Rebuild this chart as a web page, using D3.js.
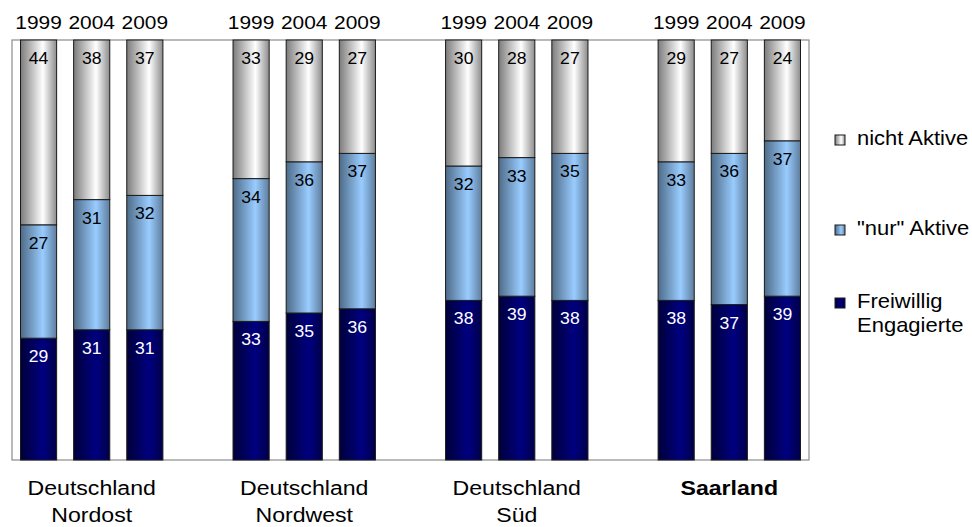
<!DOCTYPE html>
<html>
<head>
<meta charset="utf-8">
<script src="https://cdn.jsdelivr.net/npm/d3@7"></script>
<style>
  body { margin: 0; background: #fff; }
  svg { display: block; font-family: Arial, "Liberation Sans", sans-serif; }
</style>
</head>
<body>
<div id="chart"></div>
<script>
// Data (percent, each bar sums to 100)
const regions = ["Deutschland|Nordost", "Deutschland|Nordwest", "Deutschland|Süd", "Saarland"];
const years = ["1999", "2004", "2009"];
const engagiert = [29, 31, 31, 33, 35, 36, 38, 39, 38, 38, 37, 39];
const nurAktiv = [27, 31, 32, 34, 36, 37, 32, 33, 35, 33, 36, 37];
const nichtAktiv = [44, 38, 37, 33, 29, 27, 30, 28, 27, 29, 27, 24];
const seriesKeys = ["engagiert", "nurAktiv", "nichtAktiv"];
const legendLabels = ["nicht Aktive", "\"nur\" Aktive", "Freiwillig|Engagierte"];

const width = 972, height = 527;
const margin = {top: 40, right: 163, bottom: 67, left: 12};
// the original's text is a bit wider than Arial, stretch it slightly
const textStretch = 1.1;

// build rows, with an empty slot between regions
const rows = [];
const slots = [];
regions.forEach((r, gi) => {
  years.forEach((y, yi) => {
    const i = gi * 3 + yi;
    const key = `${gi}-${y}`;
    rows.push({key, region: gi, year: y, engagiert: engagiert[i], nurAktiv: nurAktiv[i], nichtAktiv: nichtAktiv[i]});
    slots.push(key);
  });
  if (gi < regions.length - 1) slots.push(`gap${gi}`);
});

const svg = d3.select("#chart").append("svg")
    .attr("width", width)
    .attr("height", height);

const x = d3.scaleBand()
    .domain(slots)
    .range([margin.left, width - margin.right])
    .paddingInner(0.32)
    .paddingOuter(0.16);

const y = d3.scaleLinear()
    .domain([0, 100])
    .range([height - margin.bottom, margin.top]);

const place = (px, py) => `translate(${px},${py}) scale(${textStretch},1)`;

// horizontal "cylinder" gradients like the original
const fills = {
  nichtAktiv: ["#7c7c7c", "#ffffff", "#8c8c8c"],
  nurAktiv: ["#4e6b88", "#99ccff", "#5e7d9c"],
  engagiert: ["#00003a", "#000080", "#000048"]
};
const defs = svg.append("defs");
Object.entries(fills).forEach(([k, c]) => {
  const g = defs.append("linearGradient").attr("id", `grad-${k}`)
      .attr("x1", "0%").attr("x2", "100%").attr("y1", "0%").attr("y2", "0%");
  g.append("stop").attr("offset", "0%").attr("stop-color", c[0]);
  g.append("stop").attr("offset", "62%").attr("stop-color", c[1]);
  g.append("stop").attr("offset", "100%").attr("stop-color", c[2]);
});

// plot area frame
svg.append("rect")
    .attr("x", margin.left)
    .attr("y", margin.top)
    .attr("width", width - margin.left - margin.right)
    .attr("height", height - margin.top - margin.bottom)
    .attr("fill", "none")
    .attr("stroke", "#8c8c8c")
    .attr("stroke-width", 1.2);

const stack = d3.stack().keys(seriesKeys);
const stacked = stack(rows);

const layers = svg.append("g").selectAll("g")
  .data(stacked)
  .join("g")
    .attr("fill", d => `url(#grad-${d.key})`);

layers.selectAll("rect")
  .data(d => d)
  .join("rect")
    .attr("x", d => x(d.data.key))
    .attr("y", d => y(d[1]))
    .attr("width", x.bandwidth())
    .attr("height", d => y(d[0]) - y(d[1]))
    .attr("stroke", "#1a1a1a")
    .attr("stroke-width", 1);

// value labels near the top of each segment
layers.each(function(s) {
  d3.select(this).selectAll("text")
    .data(s)
    .join("text")
      .attr("transform", d => place(x(d.data.key) + x.bandwidth() / 2, y(d[1]) + 24))
      .attr("text-anchor", "middle")
      .attr("font-size", 16)
      .attr("fill", s.key === "engagiert" ? "#fff" : "#000")
      .text(d => d.data[s.key]);
});

// year labels above the bars
svg.append("g").selectAll("text")
  .data(rows)
  .join("text")
    .attr("transform", d => place(x(d.key) + x.bandwidth() / 2, 29))
    .attr("text-anchor", "middle")
    .attr("font-size", 19)
    .text(d => d.year);

// region labels below
const catG = svg.append("g").selectAll("text")
  .data(regions)
  .join("text")
    .attr("transform", (d, i) => place((x(`${i}-1999`) + x(`${i}-2009`) + x.bandwidth()) / 2, 495))
    .attr("text-anchor", "middle")
    .attr("font-size", 21)
    .attr("font-weight", (d, i) => i === regions.length - 1 ? "bold" : "normal");
catG.selectAll("tspan")
  .data(d => d.split("|"))
  .join("tspan")
    .attr("x", 0)
    .attr("dy", (d, i) => i === 0 ? 0 : 27)
    .text(d => d);

// legend
const legendY = [145, 235, 308];
const legendKeys = ["nichtAktiv", "nurAktiv", "engagiert"];
const legend = svg.append("g").selectAll("g")
  .data(legendKeys)
  .join("g")
    .attr("transform", (d, i) => `translate(835,${legendY[i]})`);

legend.append("rect")
    .attr("x", 0)
    .attr("y", -10)
    .attr("width", 10)
    .attr("height", 10)
    .attr("fill", d => `url(#grad-${d})`)
    .attr("stroke", "#1a1a1a")
    .attr("stroke-width", 1);

const lt = legend.append("text")
    .attr("transform", place(22, 0))
    .attr("font-size", 20);
lt.selectAll("tspan")
  .data((d, i) => legendLabels[i].split("|"))
  .join("tspan")
    .attr("x", 0)
    .attr("dy", (d, i) => i === 0 ? 0 : 24)
    .text(d => d);
</script>
</body>
</html>
